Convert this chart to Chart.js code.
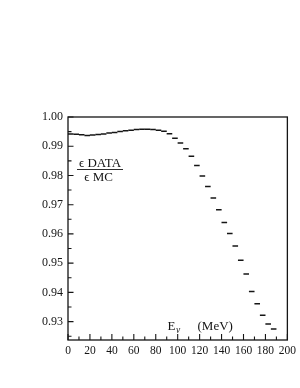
<!DOCTYPE html>
<html>
<head>
<meta charset="utf-8">
<script src="https://cdn.jsdelivr.net/npm/chart.js@4/dist/chart.umd.min.js"></script>
<style>
  html, body { margin: 0; padding: 0; background: #fff; }
  #wrap { width: 300px; height: 388px; }
</style>
</head>
<body>
<div id="wrap"><canvas id="ratioChart"></canvas></div>
<script>
// bin centres (MeV), 5 MeV bins
var energies = [2.5, 7.5, 12.5, 17.5, 22.5, 27.5, 32.5, 37.5, 42.5, 47.5,
  52.5, 57.5, 62.5, 67.5, 72.5, 77.5, 82.5, 87.5, 92.5, 97.5,
  102.5, 107.5, 112.5, 117.5, 122.5, 127.5, 132.5, 137.5, 142.5, 147.5,
  152.5, 157.5, 162.5, 167.5, 172.5, 177.5, 182.5, 187.5];
// efficiency ratio DATA / MC
var ratio = [0.9942, 0.9941, 0.9939, 0.9937, 0.9938, 0.9940, 0.9942, 0.9945, 0.9947, 0.9950,
  0.9953, 0.9955, 0.9957, 0.9958, 0.9958, 0.9957, 0.9955, 0.9951, 0.9943, 0.9927,
  0.9911, 0.9891, 0.9866, 0.9834, 0.9798, 0.9762, 0.9723, 0.9683, 0.9639, 0.9601,
  0.9559, 0.9510, 0.9463, 0.9403, 0.9361, 0.9322, 0.9292, 0.9275];
var xTicks = [0, 20, 40, 60, 80, 100, 120, 140, 160, 180, 200];
var yTicks = [0.93, 0.94, 0.95, 0.96, 0.97, 0.98, 0.99, 1.00];

var ink = '#151515';
var serif = "'Liberation Serif', 'DejaVu Serif', serif";

// frame, inward ticks and the two labels
var framePlugin = {
  id: 'frame',
  afterDraw: function(chart) {
    var ctx = chart.ctx, a = chart.chartArea;
    var xs = chart.scales.x, ys = chart.scales.y;
    ctx.save();
    ctx.strokeStyle = ink;
    ctx.lineWidth = 1.3;
    ctx.strokeRect(a.left, a.top, a.right - a.left, a.bottom - a.top);

    ctx.lineWidth = 1.1;
    ctx.beginPath();
    for (var i = 0; i < xTicks.length; i++) {
      var px = xs.getPixelForValue(xTicks[i]);
      ctx.moveTo(px, a.bottom); ctx.lineTo(px, a.bottom - 6);
      if (i < xTicks.length - 1) {
        var pm = xs.getPixelForValue((xTicks[i] + xTicks[i + 1]) / 2);
        ctx.moveTo(pm, a.bottom); ctx.lineTo(pm, a.bottom - 3.5);
      }
    }
    for (var j = 0; j < yTicks.length; j++) {
      var py = ys.getPixelForValue(yTicks[j]);
      ctx.moveTo(a.left, py); ctx.lineTo(a.left + 5.5, py);
      var pmy = ys.getPixelForValue(yTicks[j] - 0.005);
      if (pmy < a.bottom) { ctx.moveTo(a.left, pmy); ctx.lineTo(a.left + 3.5, pmy); }
    }
    ctx.stroke();

    // y label as a fraction
    ctx.fillStyle = ink;
    ctx.font = '13px ' + serif;
    ctx.textAlign = 'center';
    ctx.textBaseline = 'alphabetic';
    ctx.fillText('\u03F5 DATA', 100, 167);
    ctx.fillText('\u03F5 MC', 98.5, 181);
    ctx.beginPath();
    ctx.lineWidth = 0.9;
    ctx.moveTo(77, 169.5); ctx.lineTo(123, 169.5);
    ctx.stroke();

    // x label
    ctx.textAlign = 'left';
    ctx.font = '13px ' + serif;
    ctx.fillText('E', 167.5, 330);
    ctx.font = 'italic 9.5px ' + serif;
    ctx.fillText('\u03BD', 176, 332.5);
    ctx.font = '13px ' + serif;
    ctx.fillText('(MeV)', 197.5, 330);
    ctx.restore();
  }
};

var ratioCtx = document.getElementById('ratioChart').getContext('2d');
var ratioChart = new Chart(ratioCtx, {
  type: 'scatter',
  data: {
    datasets: [{
      data: energies.map(function(e, i) { return { x: e, y: ratio[i] }; }),
      showLine: false,
      pointStyle: 'line',
      pointRadius: 2.8,
      pointHoverRadius: 2.8,
      borderWidth: 1.5,
      borderColor: ink,
      backgroundColor: ink
    }]
  },
  options: {
    responsive: true,
    maintainAspectRatio: false,
    animation: false,
    events: [],
    layout: { padding: { left: 0, right: 12, top: 117, bottom: 0 } },
    plugins: { legend: { display: false }, tooltip: { enabled: false } },
    scales: {
      x: {
        type: 'linear',
        min: 0,
        max: 200,
        afterBuildTicks: function(axis) { axis.ticks = xTicks.map(function(v) { return { value: v }; }); },
        afterFit: function(axis) { axis.height = 48; },
        grid: { display: false, drawTicks: false },
        border: { display: false },
        ticks: { color: ink, padding: 4, maxRotation: 0, autoSkip: false, font: { family: serif, size: 11.5 } }
      },
      y: {
        min: 0.9237,
        max: 1.0,
        afterBuildTicks: function(axis) { axis.ticks = yTicks.map(function(v) { return { value: v }; }); },
        afterFit: function(axis) { axis.width = 68; },
        grid: { display: false, drawTicks: false },
        border: { display: false },
        ticks: {
          color: ink, padding: 5, autoSkip: false,
          font: { family: serif, size: 12 },
          callback: function(v) { return v.toFixed(2); }
        }
      }
    }
  },
  plugins: [framePlugin]
});
</script>
</body>
</html>
